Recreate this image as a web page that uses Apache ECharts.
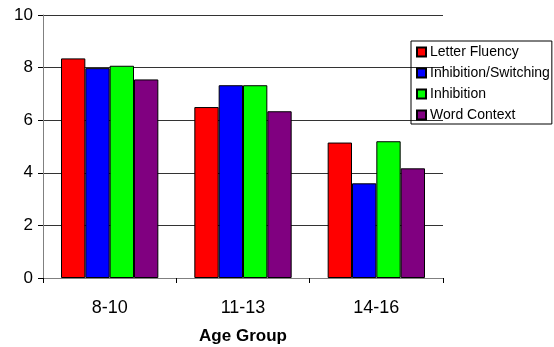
<!DOCTYPE html>
<html><head><meta charset="utf-8">
<script src="https://cdn.jsdelivr.net/npm/echarts@6/dist/echarts.min.js"></script>
<style>html,body{margin:0;padding:0;background:#fff}#c{width:554px;height:347px}</style>
</head><body><div id="c"></div>
<script>
var categories = ['8-10', '11-13', '14-16'];
var letterFluency = [8.35, 6.5, 5.15];
var inhibitionSwitching = [7.98, 7.33, 3.6];
var inhibition = [8.07, 7.33, 5.2];
var wordContext = [7.55, 6.34, 4.17];
var seriesNames = ['Letter Fluency', 'Inhibition/Switching', 'Inhibition', 'Word Context'];
var seriesColors = ['#ff0000', '#0000ff', '#00ff00', '#800080'];
var yTicks = [0, 2, 4, 6, 8, 10];

var font = 'Liberation Sans, Arial, sans-serif';
var dataSets = [letterFluency, inhibitionSwitching, inhibition, wordContext];
var chart = echarts.init(document.getElementById('c'), null, {renderer: 'canvas'});
chart.setOption({
  animation: false,
  backgroundColor: '#fff',
  grid: {left: 43, top: 15, right: 111, bottom: 69, containLabel: false, outerBoundsMode: 'none'},
  legend: {
    orient: 'vertical', left: 411, top: 41,
    data: seriesNames,
    itemWidth: 9, itemHeight: 9, itemGap: 7,
    padding: [4, 2, 2, 5],
    borderColor: '#000', borderWidth: 1,
    textStyle: {fontFamily: font, fontSize: 14, color: '#000', padding: [0,0,0,-1]},
    icon: 'rect'
  },
  xAxis: {
    type: 'category', data: categories,
    name: 'Age Group', nameLocation: 'middle', nameGap: 50,
    nameTextStyle: {fontFamily: font, fontSize: 17, fontWeight: 'bold', color: '#000'},
    axisLine: {lineStyle: {color: '#808080', width: 1}},
    axisTick: {show: true, length: 5, alignWithLabel: false, lineStyle: {color: '#000'}},
    axisLabel: {fontFamily: font, fontSize: 18, color: '#000', margin: 21},
    splitLine: {show: false}
  },
  yAxis: {
    type: 'value', min: 0, max: 10, interval: 2,
    axisLine: {show: true, lineStyle: {color: '#808080', width: 1}},
    axisTick: {show: true, length: 5, lineStyle: {color: '#000'}},
    axisLabel: {fontFamily: font, fontSize: 17, color: '#000', margin: 10,
      formatter: function (v) { return yTicks.indexOf(v) >= 0 ? String(v) : ''; }},
    splitLine: {show: true, lineStyle: {color: '#333', width: 1}}
  },
  series: seriesNames.map(function (n, i) {
    return {
      name: n, type: 'bar', data: dataSets[i],
      barGap: '0%', barCategoryGap: '27%',
      itemStyle: {color: seriesColors[i], borderColor: '#000', borderWidth: 1}
    };
  })
});
</script></body></html>
